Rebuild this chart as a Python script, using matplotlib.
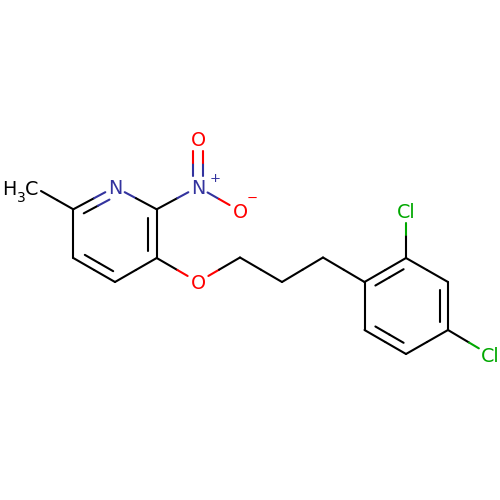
import matplotlib
matplotlib.use("Agg")
import matplotlib.pyplot as plt
import numpy as np

BLACK, BLUE, RED, GREEN = "#000000", "#33339E", "#FF0000", "#00A800"

# atoms: x, y (pixels in the drawing), colour, clearance of the label
atom_x = [41, 73.3, 115, 156.7, 156.7, 115, 73.3, 198, 198, 240, 198, 240, 282, 323, 364.5, 406, 448, 448, 406, 364.5, 406, 490]
atom_y = [191, 209.3, 187, 209.3, 258, 282, 258, 187, 139, 211, 282, 257.5, 282, 257.5, 282, 258, 282, 330, 354, 330, 211, 355]
atom_c = [BLACK, BLACK, BLUE, BLACK, BLACK, BLACK, BLACK, BLUE, RED, RED, RED, BLACK, BLACK, BLACK,
          BLACK, BLACK, BLACK, BLACK, BLACK, BLACK, GREEN, GREEN]
atom_r = [0, 0, 11, 0, 0, 0, 0, 11, 12, 12, 12, 0, 0, 0, 0, 0, 0, 0, 0, 0, 12, 13]

# bonds: first atom, second atom
single = [(0, 1), (2, 3), (4, 5), (6, 1), (3, 7), (7, 9), (4, 10), (10, 11), (11, 12), (12, 13), (13, 14),
          (15, 16), (17, 18), (19, 14), (15, 20), (17, 21)]
ring_double = [(1, 2, 115, 240), (3, 4, 115, 240), (5, 6, 115, 240),
               (14, 15, 406, 306), (16, 17, 406, 306), (18, 19, 406, 306)]
nitro_double = [(7, 8)]

LW = 1.5
fig = plt.figure(figsize=(5, 5), dpi=100)
ax = fig.add_axes([0, 0, 1, 1])
ax.set_xlim(0, 500)
ax.set_ylim(500, 0)
ax.axis("off")


def trimmed(a, b):
    p, q = np.array([atom_x[a], atom_y[a]]), np.array([atom_x[b], atom_y[b]])
    u = (q - p) / np.linalg.norm(q - p)
    return p + u * atom_r[a], q - u * atom_r[b]


def two_tone(p, q, ca, cb, mid):
    ax.plot([p[0], mid[0]], [p[1], mid[1]], color=ca, lw=LW, solid_capstyle="round")
    ax.plot([mid[0], q[0]], [mid[1], q[1]], color=cb, lw=LW, solid_capstyle="round")


def bond(a, b):
    p, q = trimmed(a, b)
    m = (np.array([atom_x[a], atom_y[a]]) + np.array([atom_x[b], atom_y[b]])) / 2
    two_tone(p, q, atom_c[a], atom_c[b], m)


for a, b in single:
    bond(a, b)

for a, b, cx, cy in ring_double:
    bond(a, b)
    pa, pb = np.array([atom_x[a], atom_y[a]]), np.array([atom_x[b], atom_y[b]])
    m = (pa + pb) / 2
    d = np.array([cx, cy]) - m
    d = d / np.linalg.norm(d)
    p = pa + d * 8.5 + (pb - pa) * 0.16
    q = pb + d * 8.5 - (pb - pa) * 0.16
    p2, q2 = p.copy(), q.copy()
    if atom_r[a]:
        p2 = p2 + (pb - pa) / np.linalg.norm(pb - pa) * 3
    if atom_r[b]:
        q2 = q2 - (pb - pa) / np.linalg.norm(pb - pa) * 3
    two_tone(p2, q2, atom_c[a], atom_c[b], m + d * 8.5)

for a, b in nitro_double:
    pa, pb = trimmed(a, b)
    m = (np.array([atom_x[a], atom_y[a]]) + np.array([atom_x[b], atom_y[b]])) / 2
    for off in (-4.6, 4.6):
        s = np.array([off, 0])
        two_tone(pa + s, pb + s, atom_c[a], atom_c[b], m + s)

FS = 13.8
DY = 1.5
def label(x, y, s, c, fs=FS, ha="center"):
    ax.text(x, y + DY, s, color=c, fontsize=fs, ha=ha, va="center", family="DejaVu Sans")

label(115, 187, "N", BLUE)
label(198, 187, "N", BLUE)
label(198, 139, "O", RED)
label(240, 211, "O", RED)
label(198, 282, "O", RED)
label(406, 211, "Cl", GREEN)
label(490, 355, "Cl", GREEN)
label(9.5, 188, "H", BLACK)
label(21, 196, "3", BLACK, fs=10)
label(32, 188, "C", BLACK)
label(215.5, 177, "+", BLUE, fs=9.5)
label(252, 197, "\u2212", RED, fs=9.5)

fig.savefig("out.png", dpi=100)
